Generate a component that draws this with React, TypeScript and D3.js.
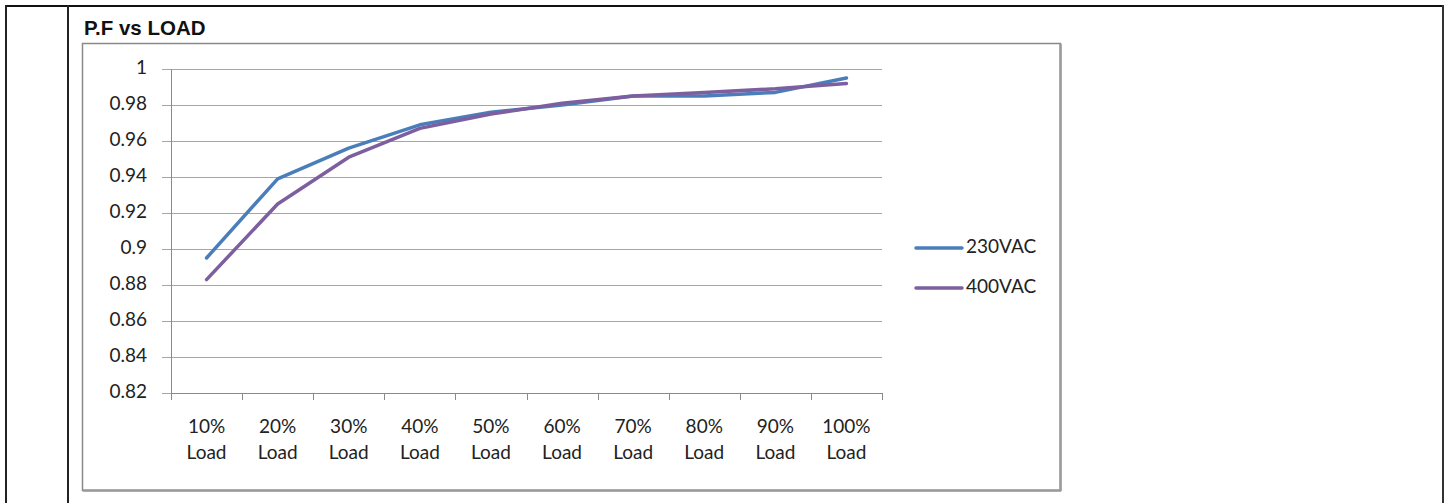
import * as d3 from "d3";

const categories = ["10%", "20%", "30%", "40%", "50%", "60%", "70%", "80%", "90%", "100%"];
const vac230 = [0.895, 0.939, 0.956, 0.969, 0.976, 0.98, 0.985, 0.985, 0.987, 0.995];
const vac400 = [0.883, 0.925, 0.951, 0.967, 0.975, 0.981, 0.985, 0.987, 0.989, 0.992];
const yTicks = [0.82, 0.84, 0.86, 0.88, 0.9, 0.92, 0.94, 0.96, 0.98, 1];

const series = [
  { name: "230VAC", values: vac230, color: "#4a7ebb" },
  { name: "400VAC", values: vac400, color: "#7d5fa0" },
];

const W = 1451;
const H = 503;
// plot area
const left = 171;
const right = 882;
const top = 69;
const bottom = 393;

const font = "Lato, 'Open Sans', sans-serif";

export default function App() {
  const x = d3.scaleBand<string>().domain(categories).range([left, right]);
  const y = d3.scaleLinear().domain([0.82, 1]).range([bottom, top]);

  const line = d3
    .line<number>()
    .x((_, i) => (x(categories[i]) as number) + x.bandwidth() / 2)
    .y((d) => y(d));

  // band edges for the x tick marks
  const edges = categories.map((c) => x(c) as number).concat([right]);

  return (
    <svg
      width={W}
      height={H}
      style={{ position: "absolute", left: 0, top: 0, background: "#fff" }}
    >
      {/* page table borders */}
      <line x1={5} x2={1444} y1={6} y2={6} stroke="#111" strokeWidth={2} />
      <line x1={6} x2={6} y1={5} y2={H} stroke="#222" strokeWidth={2} />
      <line x1={68} x2={68} y1={5} y2={H} stroke="#222" strokeWidth={2} />
      <line x1={1443} x2={1443} y1={5} y2={H} stroke="#333" strokeWidth={2} />

      <text
        x={84}
        y={35}
        fontFamily="'Liberation Sans', Arial, sans-serif"
        fontWeight="bold"
        fontSize={20.5}
        fill="#111"
      >
        P.F vs LOAD
      </text>

      {/* chart box */}
      <rect x={82.5} y={43.5} width={978} height={447} fill="#fff" stroke="#8a8a8a" strokeWidth={1.5} />
      <line x1={1060.5} x2={1060.5} y1={44} y2={491} stroke="#9a9a9a" strokeWidth={2.5} />
      <line x1={83} x2={1061} y1={490.5} y2={490.5} stroke="#9a9a9a" strokeWidth={2.5} />

      {/* gridlines + y ticks */}
      {yTicks.map((t) => (
        <g key={t}>
          <line x1={162} x2={right} y1={Math.round(y(t)) + 0.5} y2={Math.round(y(t)) + 0.5} stroke="#a6a6a6" strokeWidth={1} />
          <text
            x={147}
            y={y(t)}
            textAnchor="end"
            dominantBaseline="middle"
            fontFamily={font}
            fontSize={19}
            fill="#222"
          >
            {d3.format("")(t)}
          </text>
        </g>
      ))}

      {/* axes */}
      <line x1={left + 0.5} x2={left + 0.5} y1={top} y2={bottom} stroke="#8a8a8a" />
      <line x1={left} x2={right} y1={bottom + 0.5} y2={bottom + 0.5} stroke="#8a8a8a" />
      {edges.map((e, i) => (
        <line key={i} x1={Math.round(e) + 0.5} x2={Math.round(e) + 0.5} y1={bottom} y2={bottom + 7} stroke="#8a8a8a" />
      ))}
      {categories.map((c) => (
        <text
          key={c}
          x={(x(c) as number) + x.bandwidth() / 2}
          y={428}
          textAnchor="middle"
          dominantBaseline="middle"
          fontFamily={font}
          fontSize={19}
          fill="#222"
        >
          <tspan x={(x(c) as number) + x.bandwidth() / 2}>{c}</tspan>
          <tspan x={(x(c) as number) + x.bandwidth() / 2} dy={25.5}>
            Load
          </tspan>
        </text>
      ))}

      {/* series */}
      {series.map((s) => (
        <path
          key={s.name}
          d={line(s.values) as string}
          fill="none"
          stroke={s.color}
          strokeWidth={3.5}
          strokeLinejoin="round"
          strokeLinecap="round"
        />
      ))}

      {/* legend */}
      {series.map((s, i) => (
        <g key={s.name} transform={`translate(0, ${248 + i * 40})`}>
          <line x1={916} x2={962} y1={0} y2={0} stroke={s.color} strokeWidth={3.5} strokeLinecap="round" />
          <text x={966} y={0} dominantBaseline="middle" fontFamily={font} fontSize={19} fill="#222">
            {s.name}
          </text>
        </g>
      ))}
    </svg>
  );
}
